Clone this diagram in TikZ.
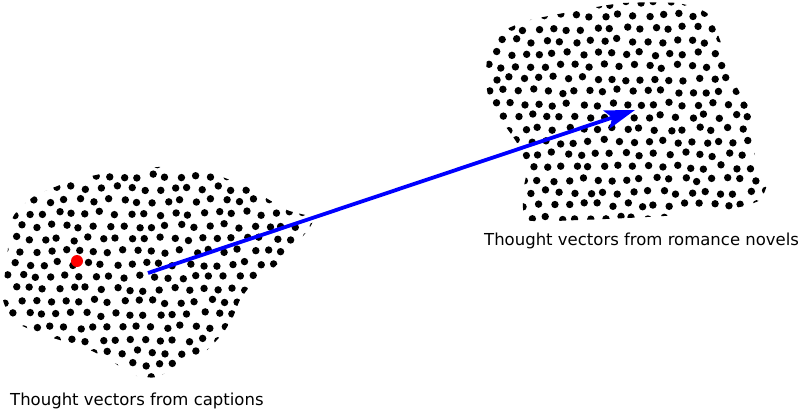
\documentclass[tikz,border=0pt]{standalone}
\usepackage{fontspec}
\setmainfont{DejaVu Sans}
\usetikzlibrary{arrows.meta}

\begin{document}
\begin{tikzpicture}[x=1pt,y=1pt,yscale=-1,xscale=1,
  blobdot/.style={fill=black},
  redpoint/.style={fill=red},
  vecarrow/.style={draw={rgb,255:red,0;green,0;blue,255},line width=3.8pt,
    -{Stealth[length=30pt,width=19pt,inset=6pt]}},
  blobtext/.style={inner sep=0pt,font=\fontsize{16.5}{19}\selectfont}]
\useasboundingbox (0,0) rectangle (800,408); %picture is 800 wide and 408 high
\pgfmathsetseed{4242}

%Shape: Caption cloud (left)
\begin{scope}
\clip plot [smooth cycle, tension=0.35] coordinates {(13,217) (33,197) (60,185) (87,177) (133,168) (193,167) (217,175) (247,187) (287,210) (312,217) (310,227) (283,260) (253,283) (240,300) (233,317) (223,333) (207,350) (187,360) (157,377) (133,375) (110,360) (83,347) (50,337) (17,323) (3,300) (7,257)};
\foreach \r in {0,...,18} {
  \foreach \c in {0,...,22} {
    \pgfmathsetmacro\px{\c*14.5 + mod(\r,2)*7.25 + 2.4*rand}
    \pgfmathsetmacro\py{163 + \r*12.6 + 2.4*rand}
    \fill [blobdot] (\px,\py) circle (3.7);
  }
}
\end{scope}

%Shape: Novel cloud (right)
\begin{scope}
\clip plot [smooth cycle, tension=0.35] coordinates {(487,60) (500,33) (530,20) (580,10) (623,3) (677,3) (707,13) (720,40) (730,73) (740,93) (750,110) (753,140) (757,167) (767,183) (760,200) (740,207) (707,213) (647,217) (580,220) (527,220) (523,193) (527,167) (517,143) (503,123) (493,110) (487,90)};
\foreach \r in {0,...,18} {
  \foreach \c in {0,...,21} {
    \pgfmathsetmacro\px{481 + \c*14.5 + mod(\r,2)*7.25 + 2.4*rand}
    \pgfmathsetmacro\py{3 + \r*12.6 + 2.4*rand}
    \fill [blobdot] (\px,\py) circle (3.7);
  }
}
\end{scope}

%Shape: Circle (red sample)
\fill [redpoint] (77,261) circle (6);

%Straight Lines: thought vector
\coordinate (vecStart) at (148,273);
\coordinate (vecEnd) at (635,110);
\draw [vecarrow] (vecStart) -- (vecEnd);

% Text Node
\draw (10,405) node (capLabel) [anchor=base west] [blobtext] {Thought vectors from captions};
% Text Node
\draw (484,245) node (novelLabel) [anchor=base west] [blobtext] {Thought vectors from romance novels};

\end{tikzpicture}
\end{document}
